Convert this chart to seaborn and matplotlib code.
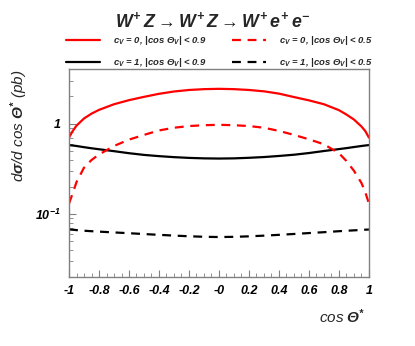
import matplotlib
matplotlib.use("Agg")
import matplotlib.pyplot as plt
from matplotlib.ticker import FixedLocator, NullFormatter
import pandas as pd
import seaborn as sns

# cos(theta*) sample points
cos_theta = [-1, -0.975, -0.95, -0.9, -0.85, -0.8, -0.7, -0.6, -0.5, -0.4, -0.3, -0.2, -0.1, 0,
             0.1, 0.2, 0.3, 0.4, 0.5, 0.6, 0.7, 0.8, 0.85, 0.9, 0.95, 0.975, 1]

# d sigma / d cos theta* (pb)
cv0_09 = [0.70, 0.83, 0.95, 1.14, 1.29, 1.42, 1.64, 1.82, 1.98, 2.14, 2.27, 2.36, 2.41, 2.43,
          2.41, 2.36, 2.28, 2.15, 1.97, 1.81, 1.64, 1.41, 1.26, 1.11, 0.93, 0.83, 0.70]
cv0_05 = [0.13, 0.17, 0.225, 0.325, 0.395, 0.455, 0.565, 0.665, 0.75, 0.84, 0.90, 0.94, 0.96, 0.97,
          0.96, 0.94, 0.90, 0.83, 0.75, 0.67, 0.59, 0.47, 0.385, 0.30, 0.22, 0.175, 0.13]
cv1_09 = [0.578, 0.572, 0.565, 0.548, 0.533, 0.52, 0.495, 0.47, 0.45, 0.436, 0.425, 0.417, 0.412, 0.41,
          0.412, 0.418, 0.426, 0.438, 0.452, 0.472, 0.497, 0.522, 0.535, 0.55, 0.565, 0.572, 0.578]
cv1_05 = [0.067, 0.0667, 0.066, 0.065, 0.0642, 0.0635, 0.0622, 0.061, 0.0597, 0.0585, 0.0574, 0.0564, 0.0557, 0.0553,
          0.0556, 0.0563, 0.0573, 0.0585, 0.0598, 0.0612, 0.0626, 0.0642, 0.0649, 0.0656, 0.0663, 0.0667, 0.067]

x_ticks = [-1, -0.8, -0.6, -0.4, -0.2, 0, 0.2, 0.4, 0.6, 0.8, 1]
x_tick_labels = ["-1", "-0.8", "-0.6", "-0.4", "-0.2", "-0", "0.2", "0.4", "0.6", "0.8", "1"]

labels = [r"$c_{V}$ = 0, |cos $\Theta_{V}$| < 0.9",
          r"$c_{V}$ = 1, |cos $\Theta_{V}$| < 0.9",
          r"$c_{V}$ = 0, |cos $\Theta_{V}$| < 0.5",
          r"$c_{V}$ = 1, |cos $\Theta_{V}$| < 0.5"]

sns.set_style("ticks")
plt.rcParams["font.family"] = ["Liberation Sans", "DejaVu Sans"]
plt.rcParams["font.weight"] = "bold"
plt.rcParams["font.style"] = "italic"
plt.rcParams["mathtext.fontset"] = "custom"
plt.rcParams["mathtext.rm"] = "Liberation Sans:bold:italic"
plt.rcParams["mathtext.it"] = "Liberation Sans:bold:italic"
plt.rcParams["mathtext.bf"] = "Liberation Sans:bold:italic"

fig = plt.figure(figsize=(4.15, 3.46), dpi=100)
ax = fig.add_axes([0.1663, 0.2003, 0.7227, 0.5994])

dashed = (0, (4, 3))
series = [(cv0_09, "#ff0000", "-"), (cv1_09, "black", "-"),
          (cv0_05, "#ff0000", dashed), (cv1_05, "black", dashed)]
handles = []
for vals, col, ls in series:
    df = pd.DataFrame({"cos": cos_theta, "val": vals})
    sns.lineplot(data=df, x="cos", y="val", ax=ax, color=col, linestyle=ls, lw=1.6)
    handles.append(ax.lines[-1])

ax.set_yscale("log")
ax.set_xlim(-1, 1)
ax.set_ylim(0.0201, 4.0)

ax.set_xticks(x_ticks)
ax.set_xticklabels(x_tick_labels)
ax.xaxis.set_minor_locator(FixedLocator([i * 0.05 - 1 for i in range(41)]))
ax.yaxis.set_major_locator(FixedLocator([0.1, 1]))
ax.set_yticklabels([r"$10^{-1}$", "1"])
ax.yaxis.set_minor_locator(FixedLocator([0.03, 0.04, 0.05, 0.06, 0.07, 0.08, 0.09,
                                         0.2, 0.3, 0.4, 0.5, 0.6, 0.7, 0.8, 0.9, 2, 3]))
ax.yaxis.set_minor_formatter(NullFormatter())

for s in ax.spines.values():
    s.set_color("#808080")
    s.set_linewidth(1)
ax.tick_params(which="both", direction="in", colors="#808080", labelcolor="black",
               labelsize=9, top=False, right=False)
ax.tick_params(which="major", length=5, pad=6)
ax.tick_params(which="minor", length=3)
for t in ax.get_xticklabels() + ax.get_yticklabels():
    t.set_fontweight("bold")
    t.set_fontstyle("italic")

ax.set_xlabel(r"cos $\Theta^{*}$", fontsize=11, ha="right")
ax.xaxis.set_label_coords(0.99, -0.15)
ax.set_ylabel(r"d$\sigma$/d cos $\Theta^{*}$ (pb)", fontsize=11, ha="right", va="center")
ax.yaxis.set_label_coords(0.047, 0.80, transform=fig.transFigure)

fig.text(0.513, 0.94, r"$W^{+}\,Z \rightarrow W^{+}\,Z \rightarrow W^{+}\,e^{+}\,e^{-}$",
         ha="center", va="center", fontsize=12.8)

fig.legend(handles, labels, ncol=2, loc="center", bbox_to_anchor=(0.529, 0.851),
           frameon=False, fontsize=6.8, handlelength=3.6, handletextpad=1.38,
           columnspacing=2.65, labelspacing=1.0)

fig.savefig("out.png", dpi=100)
